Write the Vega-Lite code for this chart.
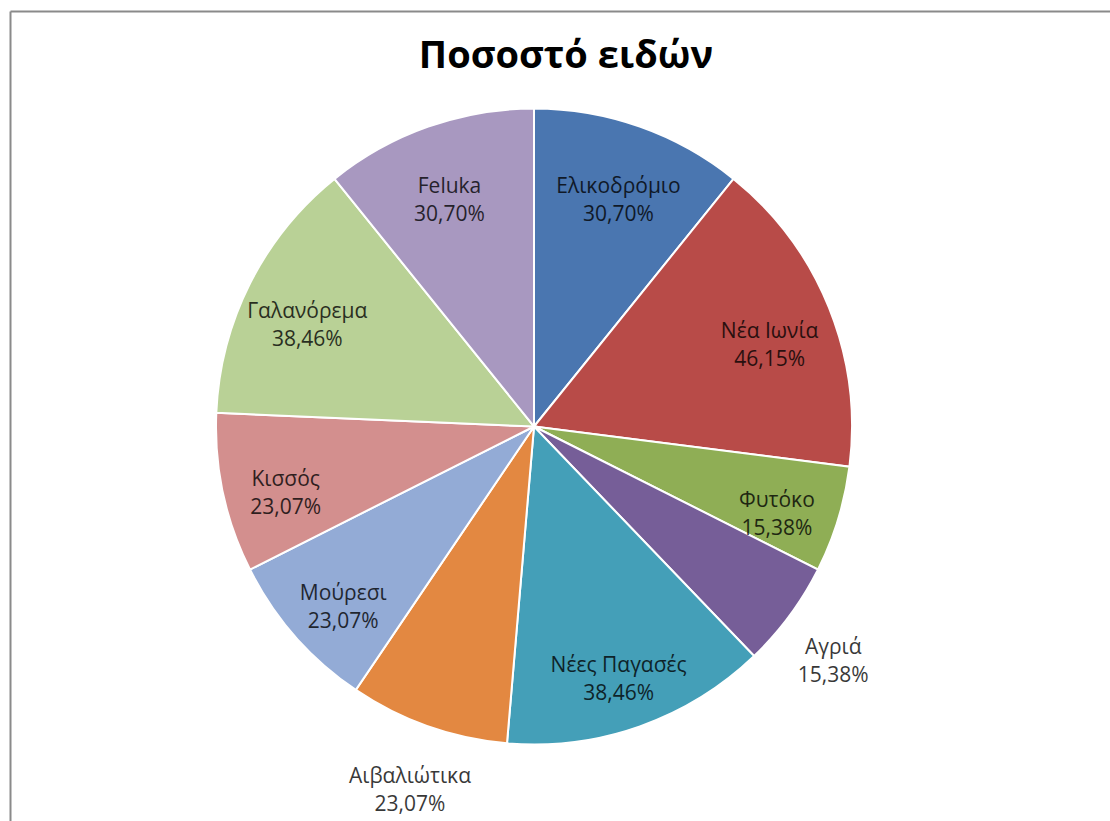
{
  "$schema": "https://vega.github.io/schema/vega-lite/v6.json",
  "autosize": "none",
  "width": 1048,
  "height": 789,
  "padding": {"left": 10, "top": 32, "right": 52, "bottom": 0},
  "background": "white",
  "config": {"view": {"stroke": null}},
  "title": {
    "text": "Ποσοστό ειδών",
    "font": "Open Sans",
    "fontSize": 38,
    "fontWeight": "bold",
    "color": "#000000",
    "anchor": "middle",
    "frame": "group",
    "baseline": "alphabetic",
    "offset": 0,
    "dx": 32,
    "dy": 95
  },
  "data": {
    "values": [
      {"order": 1, "name": "Ελικοδρόμιο", "value": 30.70, "pct": "30,70%", "pos": "in"},
      {"order": 2, "name": "Νέα Ιωνία", "value": 46.15, "pct": "46,15%", "pos": "in"},
      {"order": 3, "name": "Φυτόκο", "value": 15.38, "pct": "15,38%", "pos": "in"},
      {"order": 4, "name": "Αγριά", "value": 15.38, "pct": "15,38%", "pos": "out"},
      {"order": 5, "name": "Νέες Παγασές", "value": 38.46, "pct": "38,46%", "pos": "in"},
      {"order": 6, "name": "Αιβαλιώτικα", "value": 23.07, "pct": "23,07%", "pos": "out"},
      {"order": 7, "name": "Μούρεσι", "value": 23.07, "pct": "23,07%", "pos": "in"},
      {"order": 8, "name": "Κισσός", "value": 23.07, "pct": "23,07%", "pos": "in"},
      {"order": 9, "name": "Γαλανόρεμα", "value": 38.46, "pct": "38,46%", "pos": "in"},
      {"order": 10, "name": "Feluka", "value": 30.70, "pct": "30,70%", "pos": "in"}
    ]
  },
  "transform": [
    {"calculate": "datum.name + '\\n' + datum.pct", "as": "label"}
  ],
  "layer": [
    {
      "mark": {"type": "point", "opacity": 0},
      "encoding": {
        "x": {
          "datum": 0,
          "type": "quantitative",
          "scale": {"domain": [0, 1], "range": [0, 1100]},
          "axis": {"orient": "top", "offset": 21, "domain": true, "domainColor": "#8a8a8a", "domainWidth": 2, "ticks": false, "labels": false, "grid": false, "title": null}
        },
        "y": {
          "datum": 0,
          "type": "quantitative",
          "scale": {"domain": [0, 1], "range": [789, -21]},
          "axis": {"orient": "left", "offset": 0, "domain": true, "domainColor": "#8a8a8a", "domainWidth": 2, "ticks": false, "labels": false, "grid": false, "title": null}
        }
      }
    },
    {
      "mark": {"type": "arc", "outerRadius": 318, "stroke": "white", "strokeWidth": 2},
      "encoding": {
        "theta": {"field": "value", "type": "quantitative", "stack": true},
        "order": {"field": "order", "type": "quantitative", "sort": "ascending"},
        "color": {
          "field": "name",
          "type": "nominal",
          "legend": null,
          "scale": {
            "domain": ["Ελικοδρόμιο", "Νέα Ιωνία", "Φυτόκο", "Αγριά", "Νέες Παγασές", "Αιβαλιώτικα", "Μούρεσι", "Κισσός", "Γαλανόρεμα", "Feluka"],
            "range": ["#4A76B0", "#B84B48", "#8FAE55", "#765E98", "#449FB8", "#E38841", "#93ABD6", "#D38F8E", "#B9D196", "#A898C0"]
          }
        }
      }
    },
    {
      "mark": {"type": "text", "radius": 254, "font": "Open Sans", "fontSize": 21, "lineBreak": "\n", "lineHeight": 28, "align": "center", "baseline": "middle", "fill": "#000000", "opacity": 0.78},
      "encoding": {
        "theta": {"field": "value", "type": "quantitative", "stack": true},
        "order": {"field": "order", "type": "quantitative", "sort": "ascending"},
        "text": {"condition": {"test": "datum.pos == 'in'", "field": "label"}, "value": ""}
      }
    },
    {
      "mark": {"type": "text", "radius": 372, "font": "Open Sans", "fontSize": 21, "lineBreak": "\n", "lineHeight": 28, "align": "center", "baseline": "middle", "fill": "#000000", "opacity": 0.78},
      "encoding": {
        "theta": {"field": "value", "type": "quantitative", "stack": true},
        "order": {"field": "order", "type": "quantitative", "sort": "ascending"},
        "text": {"condition": {"test": "datum.pos == 'out'", "field": "label"}, "value": ""}
      }
    }
  ]
}
